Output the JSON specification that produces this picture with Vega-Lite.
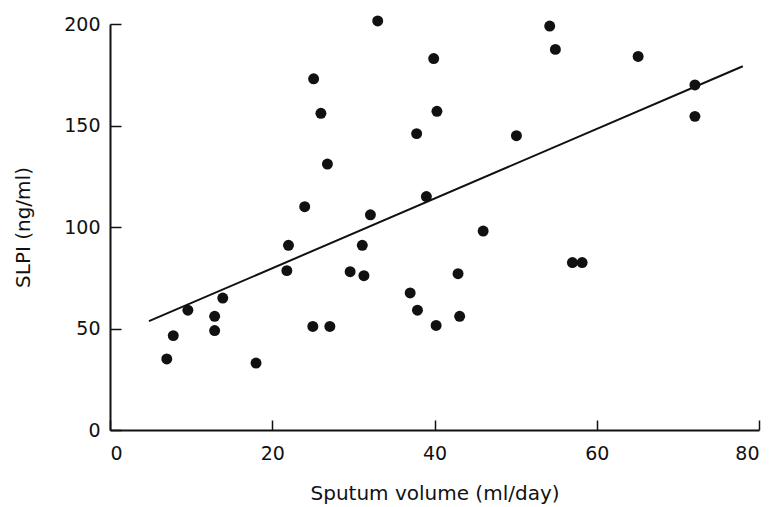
{
  "$schema": "https://vega.github.io/schema/vega-lite/v6.json",
  "autosize": "none",
  "width": 649,
  "height": 406,
  "padding": {"left": 110, "top": 24, "right": 19, "bottom": 77},
  "background": "white",
  "config": {
    "view": {"stroke": null},
    "axis": {
      "domainColor": "#111",
      "domainWidth": 2,
      "tickColor": "#111",
      "tickWidth": 1.5,
      "grid": false,
      "labelFont": "DejaVu Sans",
      "labelFontSize": 19,
      "labelColor": "#111",
      "titleFont": "DejaVu Sans",
      "titleFontSize": 20,
      "titleFontWeight": "normal",
      "titleColor": "#111"
    }
  },
  "layer": [
    {
      "data": {"values": [
        {"volume": 7.0, "slpi": 35},
        {"volume": 7.8, "slpi": 46.5},
        {"volume": 9.6, "slpi": 59},
        {"volume": 12.9, "slpi": 56},
        {"volume": 12.9, "slpi": 49},
        {"volume": 13.9, "slpi": 65},
        {"volume": 18.0, "slpi": 33},
        {"volume": 22.0, "slpi": 91},
        {"volume": 21.8, "slpi": 78.5},
        {"volume": 25.0, "slpi": 51},
        {"volume": 27.1, "slpi": 51},
        {"volume": 29.6, "slpi": 78},
        {"volume": 31.1, "slpi": 91},
        {"volume": 31.3, "slpi": 76},
        {"volume": 37.0, "slpi": 67.5},
        {"volume": 37.9, "slpi": 59},
        {"volume": 40.2, "slpi": 51.5},
        {"volume": 42.9, "slpi": 77},
        {"volume": 43.1, "slpi": 56},
        {"volume": 46.0, "slpi": 98},
        {"volume": 33.0, "slpi": 201.5},
        {"volume": 39.9, "slpi": 183},
        {"volume": 25.1, "slpi": 173},
        {"volume": 26.0, "slpi": 156},
        {"volume": 40.3, "slpi": 157},
        {"volume": 37.8, "slpi": 146},
        {"volume": 26.8, "slpi": 131},
        {"volume": 24.0, "slpi": 110},
        {"volume": 39.0, "slpi": 115},
        {"volume": 32.1, "slpi": 106},
        {"volume": 54.2, "slpi": 199},
        {"volume": 54.9, "slpi": 187.5},
        {"volume": 65.1, "slpi": 184},
        {"volume": 72.1, "slpi": 170},
        {"volume": 72.1, "slpi": 154.5},
        {"volume": 50.1, "slpi": 145},
        {"volume": 57.0, "slpi": 82.5},
        {"volume": 58.2, "slpi": 82.5}
      ]},
      "mark": {"type": "point", "shape": "circle", "filled": true, "size": 120, "color": "#111", "opacity": 1},
      "encoding": {
        "x": {
          "field": "volume", "type": "quantitative",
          "scale": {"domain": [0, 80], "nice": false, "zero": false},
          "axis": {"values": [0, 20, 40, 60, 80], "tickSize": -10, "labelPadding": 24, "title": "Sputum volume (ml/day)", "titlePadding": 20}
        },
        "y": {
          "field": "slpi", "type": "quantitative",
          "scale": {"domain": [0, 200], "nice": false, "zero": false},
          "axis": {"values": [0, 50, 100, 150, 200], "tickSize": -11, "labelPadding": 21, "title": "SLPI (ng/ml)", "titlePadding": 30}
        }
      }
    },
    {
      "data": {"values": [
        {"volume": 4.8, "slpi": 53.6},
        {"volume": 78.0, "slpi": 179.2}
      ]},
      "mark": {"type": "line", "color": "#111", "strokeWidth": 2},
      "encoding": {
        "x": {"field": "volume", "type": "quantitative"},
        "y": {"field": "slpi", "type": "quantitative"}
      }
    }
  ]
}
